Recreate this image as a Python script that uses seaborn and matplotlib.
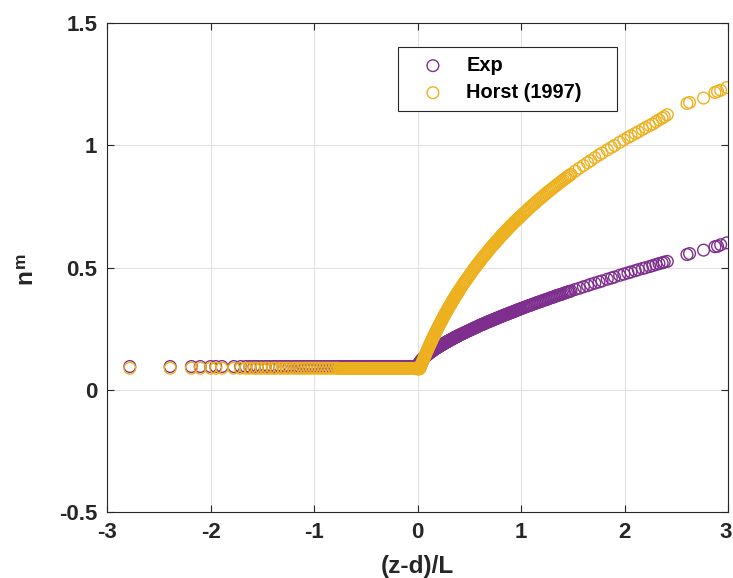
import numpy as np
import pandas as pd
import matplotlib
matplotlib.use("Agg")
import matplotlib.pyplot as plt
import matplotlib.transforms as mtransforms
import seaborn as sns

# ---------------- data ----------------
# stable side, (z-d)/L < 0
x_stable = [-2.78, -2.39, -2.185, -2.10, -2.00, -1.95, -1.89, -1.775, -1.71, -1.66,
            -1.62, -1.58, -1.55, -1.51, -1.47, -1.44, -1.40, -1.37, -1.33, -1.30,
            -1.27, -1.24, -1.20, -1.17, -1.14, -1.11, -1.08, -1.05, -1.02, -0.99,
            -0.96, -0.93, -0.90, -0.87, -0.84, -0.81, -0.78,
            -0.76, -0.75, -0.74, -0.73, -0.72, -0.71, -0.70, -0.69, -0.68, -0.67,
            -0.66, -0.65, -0.64, -0.63, -0.62, -0.61, -0.60, -0.59, -0.58, -0.57,
            -0.56, -0.55, -0.54, -0.53, -0.52, -0.51, -0.50, -0.49, -0.48, -0.47,
            -0.46, -0.45, -0.44, -0.43, -0.42, -0.41, -0.40, -0.39, -0.38, -0.37,
            -0.36, -0.35, -0.34, -0.33, -0.32, -0.31, -0.30, -0.29, -0.28, -0.27,
            -0.26, -0.25, -0.24, -0.23, -0.22, -0.21, -0.20, -0.19, -0.18, -0.17,
            -0.16, -0.15, -0.14, -0.13, -0.12, -0.11, -0.10, -0.09, -0.08, -0.07,
            -0.06, -0.05, -0.04, -0.03, -0.02, -0.01]
nm_exp_stable = [0.095, 0.095, 0.095, 0.095, 0.095, 0.095, 0.095, 0.095, 0.095, 0.095,
                 0.095, 0.095, 0.095, 0.095, 0.095, 0.095, 0.095, 0.095, 0.095, 0.095,
                 0.095, 0.095, 0.095, 0.095, 0.095, 0.095, 0.095, 0.095, 0.095, 0.095,
                 0.095, 0.095, 0.095, 0.095, 0.095, 0.095, 0.095,
                 0.095, 0.095, 0.095, 0.095, 0.095, 0.095, 0.095, 0.095, 0.095, 0.095,
                 0.095, 0.095, 0.095, 0.095, 0.095, 0.095, 0.095, 0.095, 0.095, 0.095,
                 0.095, 0.095, 0.095, 0.095, 0.095, 0.095, 0.095, 0.095, 0.095, 0.095,
                 0.095, 0.095, 0.095, 0.095, 0.095, 0.095, 0.095, 0.095, 0.095, 0.095,
                 0.095, 0.095, 0.095, 0.095, 0.095, 0.095, 0.095, 0.095, 0.095, 0.095,
                 0.095, 0.095, 0.095, 0.095, 0.095, 0.095, 0.095, 0.095, 0.095, 0.095,
                 0.095, 0.095, 0.095, 0.095, 0.095, 0.095, 0.095, 0.095, 0.095, 0.095,
                 0.095, 0.095, 0.095, 0.095, 0.095, 0.096]
nm_horst_stable = [0.088, 0.088, 0.088, 0.088, 0.088, 0.088, 0.088, 0.088, 0.088, 0.088,
                   0.088, 0.088, 0.088, 0.088, 0.088, 0.088, 0.088, 0.088, 0.088, 0.088,
                   0.088, 0.088, 0.088, 0.088, 0.088, 0.088, 0.088, 0.088, 0.088, 0.088,
                   0.088, 0.088, 0.088, 0.088, 0.088, 0.088, 0.088,
                   0.087, 0.087, 0.087, 0.087, 0.087, 0.087, 0.087, 0.087, 0.087, 0.087,
                   0.087, 0.087, 0.087, 0.087, 0.087, 0.087, 0.087, 0.087, 0.087, 0.087,
                   0.087, 0.087, 0.087, 0.087, 0.087, 0.087, 0.087, 0.087, 0.087, 0.087,
                   0.087, 0.087, 0.087, 0.087, 0.087, 0.087, 0.087, 0.087, 0.087, 0.087,
                   0.087, 0.087, 0.087, 0.087, 0.087, 0.087, 0.087, 0.087, 0.087, 0.087,
                   0.087, 0.087, 0.087, 0.087, 0.087, 0.087, 0.087, 0.087, 0.087, 0.087,
                   0.087, 0.087, 0.087, 0.087, 0.087, 0.087, 0.087, 0.087, 0.087, 0.087,
                   0.087, 0.087, 0.087, 0.087, 0.087, 0.086]

# unstable side, (z-d)/L >= 0
x_unstable = [0.000, 0.005, 0.010, 0.015,
              0.020, 0.025, 0.030, 0.035, 0.040, 0.045, 0.050, 0.055, 0.060, 0.065,
              0.070, 0.075, 0.080, 0.085, 0.090, 0.095, 0.100, 0.105, 0.110, 0.115,
              0.120, 0.125, 0.130, 0.135, 0.140, 0.145, 0.150, 0.155, 0.160, 0.165,
              0.170, 0.175, 0.180, 0.185, 0.190, 0.195, 0.200, 0.205, 0.210, 0.215,
              0.220, 0.225, 0.230, 0.235, 0.240, 0.245, 0.250, 0.255, 0.260, 0.265,
              0.270, 0.275, 0.280, 0.285, 0.290, 0.295, 0.300, 0.305, 0.310, 0.315,
              0.320, 0.325, 0.330, 0.335, 0.340, 0.345, 0.350, 0.355, 0.360, 0.365,
              0.370, 0.375, 0.380, 0.385, 0.390, 0.395, 0.400,
              0.41, 0.42, 0.43, 0.44, 0.45, 0.46, 0.47, 0.48, 0.49, 0.50,
              0.51, 0.52, 0.53, 0.54, 0.55, 0.56, 0.57, 0.58, 0.59, 0.60,
              0.61, 0.62, 0.63, 0.64, 0.65, 0.66, 0.67, 0.68, 0.69, 0.70,
              0.71, 0.72, 0.73, 0.74, 0.75, 0.76, 0.77, 0.78, 0.79, 0.80,
              0.81, 0.82, 0.83, 0.84, 0.85, 0.86, 0.87, 0.88, 0.89, 0.90,
              0.91, 0.92, 0.93, 0.94, 0.95, 0.96, 0.97, 0.98, 0.99, 1.00,
              1.015, 1.03, 1.045, 1.06, 1.075, 1.09, 1.105, 1.12, 1.135, 1.15,
              1.165, 1.18, 1.195, 1.21, 1.225, 1.24, 1.255, 1.27, 1.285, 1.30,
              1.315, 1.33, 1.345, 1.36, 1.375, 1.39, 1.405, 1.42, 1.435, 1.45,
              1.465, 1.48,
              1.52, 1.56, 1.60, 1.64, 1.67, 1.71, 1.75, 1.78, 1.83, 1.87,
              1.90, 1.95, 1.99, 2.03, 2.06, 2.10, 2.13, 2.17, 2.20, 2.24,
              2.27, 2.30, 2.33, 2.36, 2.38, 2.41,
              2.60, 2.625, 2.76, 2.87, 2.895, 2.925, 2.985]
nm_exp_unstable = [0.097, 0.102, 0.106, 0.110,
                   0.113, 0.116, 0.118, 0.121, 0.123, 0.125, 0.127, 0.129, 0.131, 0.133,
                   0.135, 0.137, 0.138, 0.140, 0.142, 0.144, 0.145, 0.147, 0.149, 0.151,
                   0.152, 0.154, 0.155, 0.157, 0.158, 0.160, 0.161, 0.163, 0.164, 0.166,
                   0.167, 0.169, 0.170, 0.171, 0.172, 0.174, 0.175, 0.177, 0.178, 0.179,
                   0.180, 0.182, 0.183, 0.184, 0.185, 0.187, 0.188, 0.189, 0.190, 0.192,
                   0.193, 0.194, 0.195, 0.197, 0.198, 0.199, 0.200, 0.201, 0.202, 0.204,
                   0.205, 0.206, 0.207, 0.208, 0.209, 0.211, 0.212, 0.213, 0.214, 0.215,
                   0.216, 0.217, 0.218, 0.219, 0.220, 0.222, 0.223,
                   0.225, 0.227, 0.229, 0.231, 0.233, 0.235, 0.237, 0.239, 0.241, 0.243,
                   0.245, 0.247, 0.249, 0.251, 0.253, 0.255, 0.257, 0.259, 0.261, 0.263,
                   0.265, 0.267, 0.268, 0.270, 0.272, 0.274, 0.276, 0.278, 0.279, 0.281,
                   0.283, 0.285, 0.286, 0.288, 0.290, 0.292, 0.293, 0.295, 0.297, 0.299,
                   0.300, 0.302, 0.304, 0.306, 0.307, 0.309, 0.310, 0.312, 0.314, 0.316,
                   0.317, 0.319, 0.320, 0.322, 0.324, 0.326, 0.327, 0.329, 0.330, 0.332,
                   0.335, 0.337, 0.339, 0.342, 0.344, 0.346, 0.349, 0.351, 0.353, 0.356,
                   0.358, 0.360, 0.362, 0.365, 0.367, 0.369, 0.371, 0.374, 0.376, 0.378,
                   0.380, 0.383, 0.385, 0.387, 0.389, 0.391, 0.393, 0.396, 0.398, 0.400,
                   0.402, 0.404,
                   0.410, 0.415, 0.421, 0.426, 0.431, 0.436, 0.441, 0.445, 0.452, 0.457,
                   0.461, 0.468, 0.473, 0.478, 0.482, 0.487, 0.491, 0.496, 0.499, 0.504,
                   0.508, 0.512, 0.516, 0.519, 0.522, 0.525,
                   0.553, 0.557, 0.571, 0.585, 0.587, 0.593, 0.601]
nm_horst_unstable = [0.086, 0.086, 0.086, 0.086,
                     0.086, 0.092, 0.097, 0.103, 0.108, 0.113, 0.118, 0.123, 0.128, 0.134,
                     0.139, 0.144, 0.149, 0.154, 0.159, 0.164, 0.168, 0.173, 0.178, 0.183,
                     0.187, 0.192, 0.196, 0.201, 0.206, 0.211, 0.215, 0.219, 0.223, 0.228,
                     0.232, 0.237, 0.241, 0.245, 0.249, 0.254, 0.258, 0.262, 0.266, 0.270,
                     0.274, 0.278, 0.282, 0.286, 0.290, 0.294, 0.298, 0.302, 0.306, 0.310,
                     0.314, 0.318, 0.321, 0.325, 0.329, 0.333, 0.336, 0.340, 0.343, 0.347,
                     0.351, 0.355, 0.358, 0.362, 0.365, 0.369, 0.372, 0.376, 0.379, 0.383,
                     0.386, 0.389, 0.392, 0.396, 0.399, 0.403, 0.406,
                     0.413, 0.419, 0.426, 0.432, 0.438, 0.444, 0.450, 0.456, 0.462, 0.468,
                     0.474, 0.480, 0.486, 0.492, 0.498, 0.503, 0.509, 0.514, 0.520, 0.525,
                     0.531, 0.536, 0.542, 0.547, 0.552, 0.557, 0.562, 0.567, 0.573, 0.578,
                     0.583, 0.588, 0.593, 0.597, 0.602, 0.607, 0.612, 0.616, 0.621, 0.626,
                     0.631, 0.635, 0.640, 0.644, 0.649, 0.653, 0.658, 0.662, 0.667, 0.671,
                     0.675, 0.679, 0.684, 0.688, 0.692, 0.696, 0.700, 0.704, 0.708, 0.712,
                     0.718, 0.724, 0.730, 0.736, 0.742, 0.748, 0.753, 0.759, 0.764, 0.770,
                     0.776, 0.781, 0.786, 0.792, 0.797, 0.803, 0.808, 0.813, 0.818, 0.823,
                     0.828, 0.833, 0.838, 0.843, 0.848, 0.853, 0.858, 0.863, 0.867, 0.872,
                     0.876, 0.881,
                     0.894, 0.906, 0.917, 0.929, 0.937, 0.949, 0.960, 0.968, 0.981, 0.991,
                     0.999, 1.012, 1.022, 1.032, 1.039, 1.048, 1.055, 1.065, 1.072, 1.081,
                     1.087, 1.096, 1.104, 1.111, 1.117, 1.125,
                     1.171, 1.175, 1.193, 1.216, 1.220, 1.225, 1.236]

series_names = ["Exp", "Horst (1997)"]
x_ticks = [-3, -2, -1, 0, 1, 2, 3]
x_ticklabels = ["-3", "-2", "-1", "0", "1", "2", "3"]
y_ticks = [-0.5, 0, 0.5, 1, 1.5]
y_ticklabels = ["-0.5", "0", "0.5", "1", "1.5"]

assert len(x_stable) == len(nm_exp_stable) == len(nm_horst_stable)
assert len(x_unstable) == len(nm_exp_unstable) == len(nm_horst_unstable)

zL = x_stable + x_unstable
df = pd.DataFrame({
    "zL": zL + zL,
    "nm": nm_exp_stable + nm_exp_unstable + nm_horst_stable + nm_horst_unstable,
    "model": [series_names[0]] * len(zL) + [series_names[1]] * len(zL),
})

# ---------------- style ----------------
sns.set_style("ticks")
plt.rcParams["font.family"] = ["Liberation Sans", "DejaVu Sans"]
plt.rcParams["font.weight"] = "bold"

colors = {"Exp": "#7E2F8E", "Horst (1997)": "#EDB120"}
axis_col = "#262626"

W, H = 733, 578
fig = plt.figure(figsize=(W / 100, H / 100), dpi=100)
ax = fig.add_axes([107 / W, 66 / H, 621.4 / W, 489 / H])

for name in series_names:
    sub = df[df["model"] == name]
    sns.scatterplot(data=sub, x="zL", y="nm", ax=ax, s=71, marker="o",
                    color=colors[name], facecolors="none", edgecolor=colors[name],
                    linewidth=1.0, label=name)

ax.set_xlim(-3, 3)
ax.set_ylim(-0.5, 1.5)
ax.set_xticks(x_ticks)
ax.set_xticklabels(x_ticklabels)
ax.set_yticks(y_ticks)
ax.set_yticklabels(y_ticklabels)

ax.grid(True, color="#e2e2e2", linewidth=0.8)
ax.set_axisbelow(True)
for sp in ax.spines.values():
    sp.set_visible(True)
    sp.set_color(axis_col)
    sp.set_linewidth(0.8)
ax.tick_params(direction="in", length=5, width=0.8, top=True, right=True,
               color=axis_col, labelcolor=axis_col, labelsize=16, pad=7)
# keep the last x tick label inside the canvas
lastlab = ax.get_xticklabels()[-1]
lastlab.set_transform(lastlab.get_transform() +
                      mtransforms.ScaledTranslation(-3 / 100, 0, fig.dpi_scale_trans))

ax.set_xlabel("(z-d)/L", fontsize=17.6, fontweight="bold", color=axis_col, labelpad=9)
ax.set_ylabel("")
# y label: n with a small raised m
fig.text(31 / W, 1 - 284 / H, "n", rotation=90, rotation_mode="anchor",
         ha="left", va="baseline", fontsize=17.6, fontweight="bold", color=axis_col)
fig.text(25 / W, 1 - 268 / H, "m", rotation=90, rotation_mode="anchor",
         ha="left", va="baseline", fontsize=12.5, fontweight="bold", color=axis_col)

leg = ax.legend(loc="upper left", bbox_to_anchor=(0.4688, 0.824, 0.3515, 0.1263),
                mode="expand", borderaxespad=0, frameon=True, fancybox=False,
                framealpha=1, edgecolor=axis_col,
                prop={"weight": "bold", "size": 14.4},
                borderpad=0.43, labelspacing=0.4, handlelength=2.6, handletextpad=0.37,
                scatterpoints=1)
leg.get_frame().set_linewidth(0.8)
for t in leg.get_texts():
    t.set_color("black")

fig.savefig("out.png", dpi=100)
